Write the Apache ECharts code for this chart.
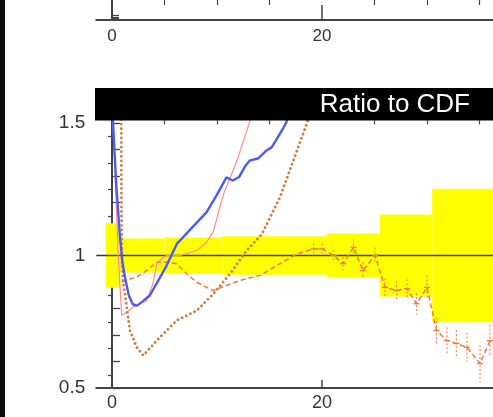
<!DOCTYPE html>
<html>
<head>
<meta charset="utf-8">
<script src="https://cdn.jsdelivr.net/npm/echarts@6/dist/echarts.min.js"></script>
<style>
  html, body { margin: 0; padding: 0; background: #ffffff; }
  #chart { width: 493px; height: 417px; }
</style>
</head>
<body>
<div id="chart"></div>
<script>
// Axis ranges and tick positions
const X_MIN = -1.5, X_MAX = 36.2857;
const xMajorTicks = [0, 20];
const xMinorTicks = [5, 10, 15, 25, 30, 35];
const xTickLabels = [0, 20];
const yLabelValues = [0.5, 1, 1.5];

// Uncertainty band: bin edges and half-width around 1
const bandEdges = [-0.6, 0.75, 5, 10.5, 20.5, 25.5, 30.5, 37];
const bandHalf  = [0.122, 0.064, 0.068, 0.073, 0.083, 0.155, 0.252];

// Blue solid curve
const blueX = [0.0, 0.1, 0.4, 0.76, 1.0, 1.24, 1.6, 2.0, 2.4, 2.8, 3.6, 4.4, 5.2, 6.2, 7.6, 9.0, 10.0, 10.9, 11.5, 12.1, 12.7, 13.1, 13.9, 14.7, 15.2, 15.7, 16.3, 16.6, 17.0];
const blueV = [1.6, 1.50, 1.27, 1.069, 0.974, 0.917, 0.849, 0.815, 0.811, 0.823, 0.849, 0.905, 0.962, 1.045, 1.104, 1.163, 1.23, 1.295, 1.283, 1.296, 1.338, 1.358, 1.366, 1.396, 1.408, 1.44, 1.48, 1.503, 1.55];

// Thin pink curve
const pinkX = [0.0, 0.3, 0.6, 0.92, 1.5, 2.0, 2.6, 3.3, 3.9, 4.3, 5.2, 6.5, 8.1, 9.0, 9.65, 10.6, 11.9, 13.1, 13.6];
const pinkV = [1.6, 1.3, 1.0, 0.774, 0.79, 0.805, 0.818, 0.83, 0.894, 0.975, 1.0, 1.0, 1.019, 1.05, 1.09, 1.23, 1.357, 1.503, 1.58];

// Orange dashed curve with error bars at high x
const orangeX = [0.95, 1.6, 2.35, 3.3, 4.26, 5.2, 6.16, 7.1, 8.07, 9.0, 9.65, 10.9, 12.2, 14.1, 16.0, 17.6, 19.2, 20.0, 21.1, 22.0, 23.0, 23.9, 25.05, 26.0, 27.1, 28.1, 29.0, 30.0, 30.9, 31.9, 32.8, 33.8, 35.05, 36.0];
const orangeV = [0.899, 0.91, 0.918, 0.943, 0.975, 0.975, 0.969, 0.931, 0.899, 0.88, 0.868, 0.887, 0.906, 0.925, 0.969, 1.006, 1.025, 1.025, 1.0, 0.969, 1.031, 0.943, 1.0, 0.88, 0.868, 0.875, 0.818, 0.88, 0.717, 0.679, 0.668, 0.654, 0.592, 0.679];
const orangeErr = [0, 0, 0, 0, 0, 0, 0, 0, 0, 0, 0, 0, 0, 0, 0, 0, 0.02, 0.02, 0.02, 0.025, 0.03, 0.03, 0.03, 0.035, 0.035, 0.035, 0.04, 0.045, 0.05, 0.05, 0.05, 0.055, 0.07, 0.06];

// Brown dotted curve
const brownX = [0.88, 0.9, 0.93, 1.05, 1.71, 2.35, 2.98, 4.26, 6.16, 8.07, 9.65, 11.24, 12.83, 14.26, 16.0, 17.27, 18.54, 19.0];
const brownV = [1.6, 1.2, 1.0, 0.906, 0.717, 0.654, 0.623, 0.679, 0.755, 0.792, 0.855, 0.931, 1.019, 1.08, 1.22, 1.358, 1.497, 1.55];

const pairs = (xs, ys) => xs.map((x, i) => [x, ys[i]]);
const steps = (a, b, s) => { const r = []; for (let v = a; v <= b + 1e-9; v += s) r.push(Math.round(v * 100) / 100); return r; };

const AXIS_COL = '#444';
const LABEL_FONT = { fontFamily: 'Liberation Sans, Arial, sans-serif', color: '#333', fontSize: 18 };

const bandData = bandHalf.map((h, i) => [bandEdges[i], bandEdges[i + 1], h]);
const errData = orangeX.map((x, i) => [x, orangeV[i], orangeErr[i]]).filter(d => d[2] > 0);

const chart = echarts.init(document.getElementById('chart'), null, { renderer: 'canvas' });

chart.setOption({
  animation: false,
  backgroundColor: '#ffffff',
  grid: [
    { left: 96.25, top: -60, right: 0, height: 80, containLabel: false },
    { left: 96.25, top: 120.35, right: 0, height: 267.65, containLabel: false }
  ],
  xAxis: [
    { gridIndex: 0, type: 'value', min: X_MIN, max: X_MAX, splitLine: { show: false },
      axisLine: { lineStyle: { color: AXIS_COL, width: 2 } },
      axisTick: { inside: true, length: 15, customValues: xMajorTicks, lineStyle: { color: AXIS_COL, width: 1.5 } },
      axisLabel: Object.assign({ customValues: xTickLabels, margin: 8 }, LABEL_FONT, { fontSize: 17 }) },
    { gridIndex: 0, type: 'value', min: X_MIN, max: X_MAX, splitLine: { show: false },
      axisLine: { show: false }, axisLabel: { show: false },
      axisTick: { inside: true, length: 5, customValues: xMinorTicks, lineStyle: { color: AXIS_COL, width: 1.2 } } },
    { gridIndex: 1, type: 'value', min: X_MIN, max: X_MAX, splitLine: { show: false },
      axisLine: { lineStyle: { color: AXIS_COL, width: 2 } },
      axisTick: { inside: true, length: 8, customValues: xMajorTicks, lineStyle: { color: AXIS_COL, width: 1.5 } },
      axisLabel: Object.assign({ customValues: xTickLabels, margin: 6 }, LABEL_FONT) },
    { gridIndex: 1, type: 'value', min: X_MIN, max: X_MAX, splitLine: { show: false },
      axisLine: { show: false }, axisLabel: { show: false },
      axisTick: { inside: true, length: 4, customValues: xMinorTicks, lineStyle: { color: AXIS_COL, width: 1.2 } } }
  ],
  yAxis: [
    { gridIndex: 0, type: 'value', min: 0, max: 80, splitLine: { show: false },
      axisLine: { show: true, lineStyle: { color: AXIS_COL, width: 2 } }, axisLabel: { show: false },
      axisTick: { show: true, inside: true, length: 7, customValues: [3, 8, 13, 18], lineStyle: { color: AXIS_COL, width: 1.2 } } },
    { gridIndex: 1, type: 'value', min: 0.5, max: 1.51, splitLine: { show: false },
      axisLine: { show: true, lineStyle: { color: AXIS_COL, width: 2 } },
      axisTick: { show: true, inside: true, length: 8, customValues: steps(0.5, 1.5, 0.1), lineStyle: { color: AXIS_COL, width: 1.3 } },
      axisLabel: Object.assign({ customValues: yLabelValues, margin: 11 }, LABEL_FONT, { fontSize: 19 }) },
    { gridIndex: 1, type: 'value', min: 0.5, max: 1.51, splitLine: { show: false },
      axisLine: { show: false }, axisLabel: { show: false },
      axisTick: { show: true, inside: true, length: 4, customValues: steps(0.55, 1.45, 0.1), lineStyle: { color: AXIS_COL, width: 1.2 } } }
  ],
  series: [
    { name: 'band', type: 'custom', xAxisIndex: 2, yAxisIndex: 1, z: 1, data: bandData,
      renderItem: function (params, api) {
        const p0 = api.coord([api.value(0), 1 + api.value(2)]);
        const p1 = api.coord([api.value(1), 1 - api.value(2)]);
        const rect = echarts.graphic.clipRectByRect(
          { x: p0[0], y: p0[1], width: p1[0] - p0[0], height: p1[1] - p0[1] },
          { x: params.coordSys.x, y: params.coordSys.y, width: params.coordSys.width, height: params.coordSys.height });
        return rect && { type: 'rect', shape: rect, style: { fill: '#ffff00' } };
      } },
    { name: 'unity', type: 'line', xAxisIndex: 2, yAxisIndex: 1, z: 2, symbol: 'none',
      data: [[X_MIN, 1], [X_MAX, 1]], lineStyle: { color: '#3a3a2a', width: 1.4 } },
    { name: 'orange', type: 'line', xAxisIndex: 2, yAxisIndex: 1, z: 3, symbol: 'none',
      data: pairs(orangeX, orangeV), lineStyle: { color: '#f07a3c', width: 1.5, type: [5, 3] } },
    { name: 'orangeErr', type: 'custom', xAxisIndex: 2, yAxisIndex: 1, z: 3, data: errData,
      renderItem: function (params, api) {
        const top = api.coord([api.value(0), api.value(1) + api.value(2)]);
        const bot = api.coord([api.value(0), api.value(1) - api.value(2)]);
        const mid = api.coord([api.value(0), api.value(1)]);
        const st = { stroke: '#f48a50', lineWidth: 1.2, lineDash: [2, 2] };
        return { type: 'group', children: [
          { type: 'line', shape: { x1: top[0], y1: top[1], x2: bot[0], y2: bot[1] }, style: st },
          { type: 'line', shape: { x1: mid[0] - 3, y1: mid[1], x2: mid[0] + 3, y2: mid[1] }, style: { stroke: '#f07a3c', lineWidth: 1.3 } }
        ] };
      } },
    { name: 'pink', type: 'line', xAxisIndex: 2, yAxisIndex: 1, z: 4, symbol: 'none',
      data: pairs(pinkX, pinkV), lineStyle: { color: '#ff8c8c', width: 1.2 } },
    { name: 'brown', type: 'line', xAxisIndex: 2, yAxisIndex: 1, z: 5, symbol: 'none',
      data: pairs(brownX, brownV), lineStyle: { color: '#c98048', width: 2.8, type: [0.1, 4.5], cap: 'round' } },
    { name: 'blue', type: 'line', xAxisIndex: 2, yAxisIndex: 1, z: 6, symbol: 'none',
      data: pairs(blueX, blueV), lineStyle: { color: '#4b5cf2', width: 2.4 } }
  ],
  graphic: [
    { type: 'rect', left: 0, top: 0, z: 100, shape: { width: 5, height: 417 }, style: { fill: '#0b0b0b' } },
    { type: 'rect', left: 95, top: 88, z: 100, shape: { width: 420, height: 32.5 }, style: { fill: '#000000' } },
    { type: 'text', z: 101, x: 470, y: 105,
      style: { text: 'Ratio to CDF', fill: '#ffffff', fontSize: 26, fontFamily: 'Liberation Sans, Arial, sans-serif', align: 'right', verticalAlign: 'middle' } }
  ]
});
</script>
</body>
</html>
